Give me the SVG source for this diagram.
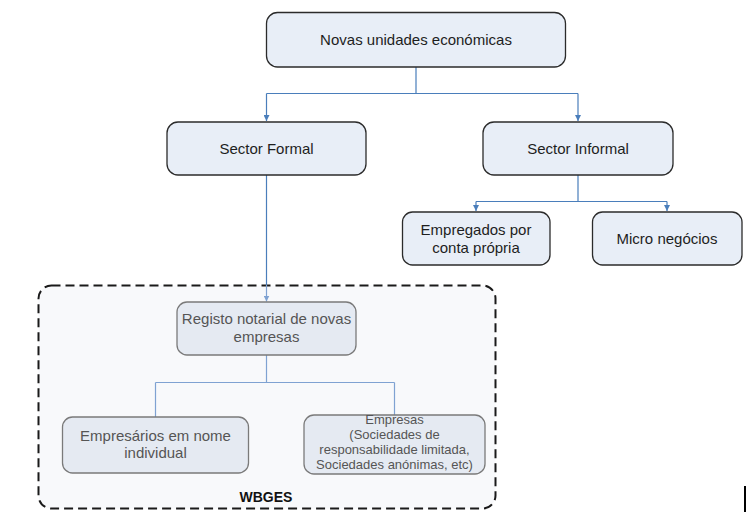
<svg xmlns="http://www.w3.org/2000/svg" width="754" height="519" viewBox="0 0 754 519">
<style>
.node{fill:#e8eef7;stroke:#2b2b2b;stroke-width:1.3}
.fnode{fill:#e5eaf2;stroke:#7a7a7a;stroke-width:1.3}
.t{font-family:"Liberation Sans",Arial,sans-serif;font-size:15px;fill:#1e1e1e;text-anchor:middle}
.ft{font-family:"Liberation Sans",Arial,sans-serif;font-size:15px;fill:#555;text-anchor:middle}
.fs{font-family:"Liberation Sans",Arial,sans-serif;font-size:13px;fill:#555;text-anchor:middle}
.c{fill:none;stroke:#4a7ebb;stroke-width:1.2}
.fc{fill:none;stroke:#7fa2d2;stroke-width:1.2}
</style>
<defs>
<marker id="ah" viewBox="0 0 10 10" refX="10" refY="5" markerWidth="6" markerHeight="6" markerUnits="userSpaceOnUse" orient="auto">
<path d="M0,0 L10,5 L0,10 z" fill="#4a7ebb"/>
</marker>
<marker id="fah" viewBox="0 0 10 10" refX="10" refY="5" markerWidth="6" markerHeight="6" markerUnits="userSpaceOnUse" orient="auto">
<path d="M0,0 L10,5 L0,10 z" fill="#7fa2d2"/>
</marker>
</defs>

<g id="wbges">
<rect x="38.5" y="285.5" width="457" height="223" rx="13" fill="#f8f9fb" stroke="#1a1a1a" stroke-width="2" stroke-dasharray="9,5"/>
<text x="266" y="502" font-family="Liberation Sans,Arial,sans-serif" font-size="14" font-weight="bold" fill="#111" text-anchor="middle">WBGES</text>
</g>

<g id="connectors">
<path class="c" d="M416,67 V93.5 M266.5,93.5 H578" />
<path class="c" d="M266.5,93.5 V121" marker-end="url(#ah)"/>
<path class="c" d="M578,93.5 V121" marker-end="url(#ah)"/>
<path class="c" d="M578,175 V201.5 M476,201.5 H667"/>
<path class="c" d="M476,201.5 V211" marker-end="url(#ah)"/>
<path class="c" d="M667,201.5 V211" marker-end="url(#ah)"/>
<path class="c" d="M266.5,175 V285"/>
<path class="fc" d="M266.5,285 V301.5" marker-end="url(#fah)"/>
<path class="fc" d="M266.5,355 V382.5 M155.5,382.5 H394.5 M155.5,382.5 V417 M394.5,382.5 V415"/>
</g>

<g id="n1">
<rect class="node" x="266.5" y="12.5" width="299" height="54.5" rx="11"/>
<text class="t" x="416" y="45">Novas unidades económicas</text>
</g>
<g id="n2">
<rect class="node" x="167" y="122" width="199" height="53" rx="11"/>
<text class="t" x="266.5" y="154">Sector Formal</text>
</g>
<g id="n3">
<rect class="node" x="483" y="122" width="190" height="53" rx="11"/>
<text class="t" x="578" y="154">Sector Informal</text>
</g>
<g id="n4">
<rect class="node" x="402.5" y="212" width="147.5" height="53" rx="10"/>
<text class="t" x="476" y="235">Empregados por</text>
<text class="t" x="476" y="253">conta própria</text>
</g>
<g id="n5">
<rect class="node" x="592.5" y="212" width="149.5" height="53" rx="10"/>
<text class="t" x="667" y="244">Micro negócios</text>
</g>
<g id="n6">
<rect class="fnode" x="177" y="302" width="179" height="53" rx="10"/>
<text class="ft" x="266.5" y="324">Registo notarial de novas</text>
<text class="ft" x="266.5" y="342">empresas</text>
</g>
<g id="n7">
<rect class="fnode" x="62.5" y="417" width="186" height="56" rx="10"/>
<text class="ft" x="155.5" y="441">Empresários em nome</text>
<text class="ft" x="155.5" y="458">individual</text>
</g>
<g id="n8">
<rect class="fnode" x="304" y="415" width="181" height="59" rx="10"/>
<text class="fs" x="394.5" y="424">Empresas</text>
<text class="fs" x="394.5" y="439">(Sociedades de</text>
<text class="fs" x="394.5" y="454">responsabilidade limitada,</text>
<text class="fs" x="394.5" y="469">Sociedades anónimas, etc)</text>
</g>

<line x1="745" y1="486" x2="745" y2="512" stroke="#000" stroke-width="2"/>
</svg>
